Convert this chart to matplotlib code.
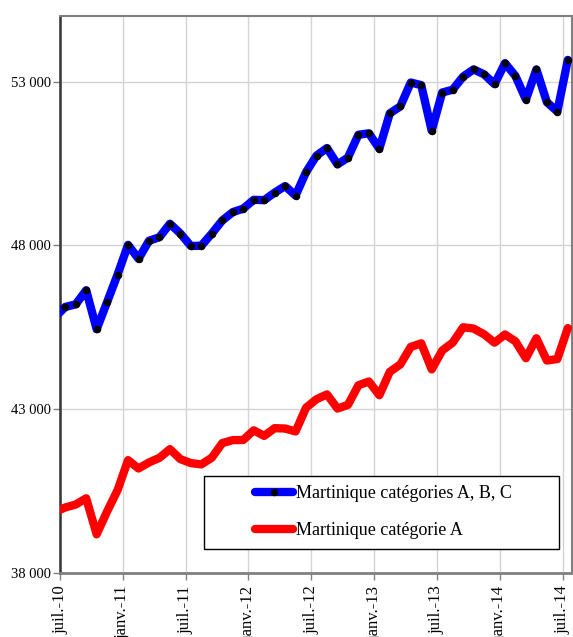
import matplotlib
matplotlib.use('Agg')
import matplotlib.pyplot as plt
import numpy as np
from matplotlib.patches import Rectangle

plt.rcParams['font.family'] = ['Liberation Serif', 'DejaVu Serif']

# Monthly series, from juin-10 (clipped at the left edge) to juil-14
abc = [45800, 46120, 46200, 46630, 45440, 46270, 47110, 48015, 47590, 48140,
       48250, 48660, 48360, 47980, 47990, 48360, 48760, 49015, 49120, 49390,
       49380, 49610, 49810, 49520, 50235, 50740, 50970, 50470, 50680, 51375,
       51420, 50950, 52030, 52240, 52970, 52890, 51500, 52665, 52750, 53150,
       53370, 53220, 52920, 53560, 53170, 52450, 53370, 52370, 52085, 53660]
cat_a = [39860, 40000, 40090, 40280, 39180, 39880, 40530, 41445, 41190, 41375,
         41515, 41780, 41475, 41355, 41315, 41520, 41965, 42055, 42060, 42355,
         42185, 42420, 42410, 42320, 43045, 43305, 43450, 43020, 43130, 43730,
         43845, 43425, 44140, 44365, 44900, 45010, 44215, 44790, 45030, 45500,
         45460, 45285, 45030, 45280, 45070, 44555, 45165, 44485, 44530, 45475]
month_index = list(range(-1, 49))  # months since juil-10
xtick_labels = ['juil.-10', 'janv.-11', 'juil.-11', 'janv.-12', 'juil.-12',
                'janv.-13', 'juil.-13', 'janv.-14', 'juil.-14']
yticks = [38000, 43000, 48000, 53000]
labels = ['Martinique catégories A, B, C', 'Martinique catégorie A']

x = np.array(month_index) + 0.5

fig = plt.figure(figsize=(5.73, 6.37), dpi=100)
ax = fig.add_axes([60/573, 1 - 573/637, 512/573, 557/637])

l1, = ax.plot(x, abc, color='#0000FF', lw=6.0, marker='o', markersize=4.4,
              markerfacecolor='black', markeredgecolor='black',
              solid_capstyle='round', solid_joinstyle='round', zorder=3)
l2, = ax.plot(x, cat_a, color='#FF0000', lw=6.0,
              solid_capstyle='round', solid_joinstyle='round', zorder=3)

ax.set_xlim(0, 48.9)
ax.set_ylim(38000, 55000)
ax.set_xticks(np.arange(0, 49, 6))
ax.set_xticklabels(xtick_labels, rotation=90, ha='center', va='top')
ax.set_yticks(yticks)
ax.set_yticklabels([f"{v:,}".replace(',', ' ') for v in yticks])

ax.grid(True, color='#d4d4d4', lw=1.0, zorder=0)
ax.set_axisbelow(True)
ax.tick_params(axis='both', direction='out', length=5, width=1,
               color='#808080', labelcolor='black')
ax.tick_params(axis='x', labelsize=12, pad=4)
ax.tick_params(axis='y', labelsize=10.5, pad=1.5)

for side in ['top', 'right', 'bottom']:
    ax.spines[side].set_color('#808080')
    ax.spines[side].set_linewidth(1.5)
ax.spines['bottom'].set_linewidth(2)
ax.spines['left'].set_color('#333333')
ax.spines['left'].set_linewidth(1.8)

# legend frame
x0, x1 = (204 - 60) / 512, (559 - 60) / 512
y0, y1 = (573 - 548.7) / 557, (573 - 475.7) / 557
ax.add_patch(Rectangle((x0, y0), x1 - x0, y1 - y0, transform=ax.transAxes,
                       facecolor='white', edgecolor='black', lw=1.0, zorder=4))
leg = ax.legend([l1, l2], labels, loc='center',
                bbox_to_anchor=((x0 + x1) / 2 + 2 / 512, (y0 + y1) / 2 + 0.0),
                frameon=False, fontsize=13, handlelength=2.1,
                handletextpad=0.16, labelspacing=1.1, markerscale=1.0)
leg.set_zorder(5)

fig.savefig('out.png', dpi=100)
